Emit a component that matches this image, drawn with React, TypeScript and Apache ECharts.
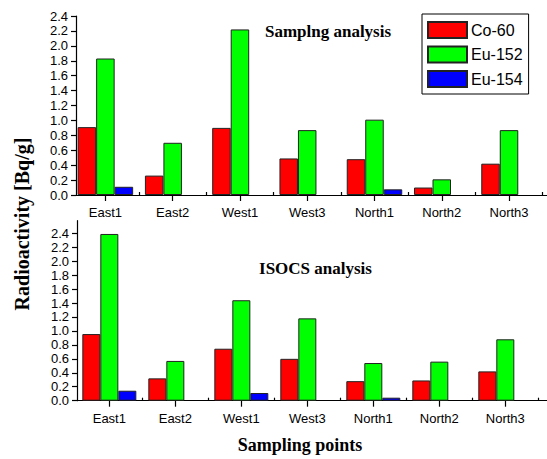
import React, { useEffect, useRef } from "react";
import * as echarts from "echarts";

const categories = ["East1", "East2", "West1", "West3", "North1", "North2", "North3"];
const seriesNames = ["Co-60", "Eu-152", "Eu-154"];

const samplingCo60 = [0.91, 0.26, 0.9, 0.49, 0.48, 0.1, 0.42];
const samplingEu152 = [1.83, 0.7, 2.22, 0.87, 1.01, 0.21, 0.87];
const samplingEu154 = [0.11, null, null, null, 0.076, null, null];

const isocsCo60 = [0.955, 0.32, 0.745, 0.6, 0.28, 0.29, 0.42];
const isocsEu152 = [2.39, 0.57, 1.44, 1.18, 0.54, 0.56, 0.88];
const isocsEu154 = [0.143, null, 0.11, null, 0.043, null, null];

const yMajorTicks = [0, 0.2, 0.4, 0.6, 0.8, 1.0, 1.2, 1.4, 1.6, 1.8, 2.0, 2.2, 2.4];
const yMinorTicksTop = [0.1, 0.3, 0.5, 0.7, 0.9, 1.1, 1.3, 1.5, 1.7, 1.9, 2.1, 2.3];
const yMinorTicksBottom = [0.1, 0.3, 0.5, 0.7, 0.9, 1.1, 1.3, 1.5, 1.7, 1.9, 2.1, 2.3, 2.5];
const xCenterTicks = [1, 2, 3, 4, 5, 6, 7];
const xBoundaryTicks = [1.5, 2.5, 3.5, 4.5, 5.5, 6.5, 7.5];

const colors = ["#ff0000", "#00ff00", "#0000ff"];
const SANS = "'Liberation Sans', Arial, sans-serif";
const SERIF = "'Liberation Serif', 'Times New Roman', serif";

function toPoints(values: (number | null)[]) {
  const out: [number, number][] = [];
  values.forEach((v, i) => {
    if (v !== null && v !== undefined) out.push([i + 1, v]);
  });
  return out;
}

export default function App() {
  const ref = useRef<HTMLDivElement>(null);

  useEffect(() => {
    if (!ref.current) return;
    const chart = echarts.init(ref.current, undefined, { renderer: "svg" });

    const topX = { min: 0.563, max: 0.563 + 481 / 68.7 };
    const botX = { min: 0.51, max: 0.51 + 480 / 67.4 };

    const mainX = (gridIndex: number, range: { min: number; max: number }) => ({
      type: "value",
      gridIndex,
      min: range.min,
      max: range.max,
      splitLine: { show: false },
      axisLine: { show: true, lineStyle: { color: "#000", width: 1.2 } },
      axisTick: { show: true, inside: false, length: 6, customValues: xCenterTicks, lineStyle: { color: "#000", width: 1.2 } },
      axisLabel: {
        show: true,
        customValues: xCenterTicks,
        margin: 11,
        color: "#000",
        fontSize: 13,
        fontFamily: SANS,
        hideOverlap: false,
        formatter: (v: number) => categories[Math.round(v) - 1] ?? "",
      },
    });
    const minorX = (gridIndex: number, range: { min: number; max: number }) => ({
      type: "value",
      gridIndex,
      min: range.min,
      max: range.max,
      splitLine: { show: false },
      axisLine: { show: false },
      axisTick: { show: true, inside: false, length: 3, customValues: xBoundaryTicks, lineStyle: { color: "#000", width: 1.2 } },
      axisLabel: { show: false },
    });
    const mainY = (gridIndex: number, max: number) => ({
      type: "value",
      gridIndex,
      min: 0,
      max,
      splitLine: { show: false },
      axisLine: { show: true, onZero: false, lineStyle: { color: "#000", width: 1.2 } },
      axisTick: { show: true, inside: false, length: 5, customValues: yMajorTicks, lineStyle: { color: "#000", width: 1.2 } },
      axisLabel: {
        show: true,
        customValues: yMajorTicks,
        showMinLabel: true,
        showMaxLabel: true,
        hideOverlap: false,
        margin: 8,
        color: "#000",
        fontSize: 13,
        lineHeight: 11,
        fontFamily: SANS,
        formatter: (v: number) => v.toFixed(1),
      },
    });
    const minorY = (gridIndex: number, max: number, ticks: number[]) => ({
      type: "value",
      gridIndex,
      min: 0,
      max,
      splitLine: { show: false },
      axisLine: { show: false },
      axisTick: { show: true, inside: false, length: 3, customValues: ticks, lineStyle: { color: "#000", width: 1.2 } },
      axisLabel: { show: false },
    });

    const bar = (name: string, values: (number | null)[], color: string, xi: number, yi: number, bw: number) => ({
      type: "bar",
      name,
      xAxisIndex: xi,
      yAxisIndex: yi,
      data: toPoints(values),
      barWidth: bw,
      barGap: "0%",
      itemStyle: { color, borderColor: "#222", borderWidth: 1 },
    });

    chart.setOption({
      animation: false,
      backgroundColor: "#fff",
      grid: [
        { left: 76, top: 16, width: 481, height: 179, containLabel: false },
        { left: 77, top: 220.7, width: 480, height: 180, containLabel: false },
      ],
      xAxis: [mainX(0, topX), minorX(0, topX), mainX(1, botX), minorX(1, botX)],
      yAxis: [mainY(0, 2.4), minorY(0, 2.4, yMinorTicksTop), mainY(1, 2.58), minorY(1, 2.58, yMinorTicksBottom)],
      legend: {
        data: seriesNames,
        orient: "vertical",
        left: 422,
        top: 14,
        itemWidth: 39,
        itemHeight: 16,
        itemGap: 6.5,
        padding: [7, 6, 6, 5],
        borderColor: "#000",
        borderWidth: 1,
        selectedMode: false,
        icon: "rect",
        textStyle: { color: "#000", fontSize: 16, fontFamily: SANS, padding: [0, 0, 0, -1] },
      },
      series: [
        bar("Co-60", samplingCo60, colors[0], 0, 0, 18.5),
        bar("Eu-152", samplingEu152, colors[1], 0, 0, 18.5),
        bar("Eu-154", samplingEu154, colors[2], 0, 0, 18.5),
        bar("Co-60", isocsCo60, colors[0], 2, 2, 18),
        bar("Eu-152", isocsEu152, colors[1], 2, 2, 18),
        bar("Eu-154", isocsEu154, colors[2], 2, 2, 18),
      ],
      graphic: [
        {
          type: "text",
          x: 328,
          y: 31,
          style: { text: "Samplng analysis", fill: "#000", font: `bold 17px ${SERIF}`, textAlign: "center", textVerticalAlign: "middle" },
        },
        {
          type: "text",
          x: 315.5,
          y: 268,
          style: { text: "ISOCS analysis", fill: "#000", font: `bold 17px ${SERIF}`, textAlign: "center", textVerticalAlign: "middle" },
        },
        {
          type: "text",
          x: 300,
          y: 445,
          style: { text: "Sampling points", fill: "#000", font: `bold 18px ${SERIF}`, textAlign: "center", textVerticalAlign: "middle" },
        },
        {
          type: "text",
          x: 22,
          y: 224,
          rotation: Math.PI / 2,
          style: { text: "Radioactivity [Bq/g]", fill: "#000", font: `bold 20px ${SERIF}`, textAlign: "center", textVerticalAlign: "middle" },
        },
      ],
    });

    return () => chart.dispose();
  }, []);

  return (
    <div
      ref={ref}
      style={{ position: "fixed", left: 0, top: 0, width: 547, height: 459, background: "#fff" }}
    />
  );
}
